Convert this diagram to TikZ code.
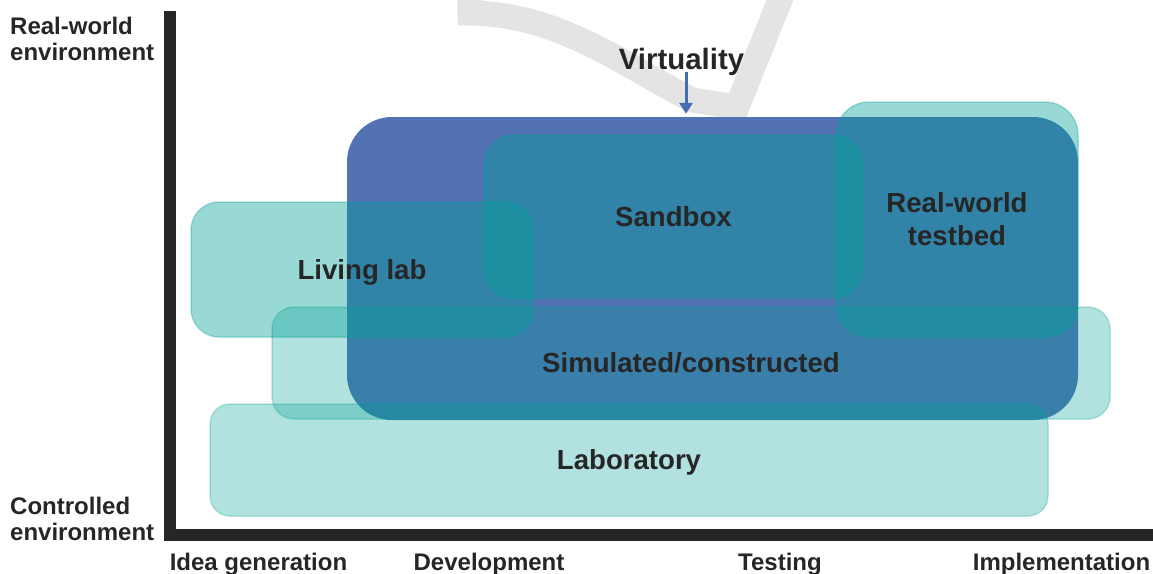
\documentclass[tikz,border=0pt]{standalone}
\usepackage{fontspec}
\setmainfont{Liberation Sans}
\usetikzlibrary{arrows.meta}
\definecolor{ink}{RGB}{38,38,38}
\definecolor{vblue}{RGB}{82,114,180}
\definecolor{tealc}{RGB}{0,160,150}
\definecolor{swgray}{RGB}{228,228,228}
\definecolor{arrowblue}{RGB}{72,108,178}
\begin{document}
\begin{tikzpicture}[x=1pt,y=-1pt,
  boxbase/.style={rectangle, inner sep=0pt, text=ink, text opacity=1,
    font=\bfseries\fontsize{27.6}{33}\selectfont},
  oneline/.style={text height=19.8pt, text depth=0pt},
  tealbox/.style={boxbase, fill=tealc, fill opacity=0.4, draw=tealc, draw opacity=0.3, line width=1.5pt},
  lightbox/.style={tealbox, fill opacity=0.3, draw opacity=0.25},
  virtbox/.style={boxbase, fill=vblue, rounded corners=45pt},
  axlabel/.style={inner sep=0pt, text=ink, font=\bfseries\fontsize{24}{26}\selectfont, align=left},
  ticklabel/.style={inner sep=0pt, text=ink, font=\bfseries\fontsize{24}{26}\selectfont, anchor=base},
  axisline/.style={draw=ink, line width=12pt, line join=miter},
  swoosh/.style={draw=swgray, line width=25pt, line join=miter},
  varrow/.style={draw=arrowblue, line width=3pt, -{Triangle[width=13pt,length=11pt]}}
]
\useasboundingbox (0,0) rectangle (1153,573);
\clip (0,0) rectangle (1153,573);
\fill[white] (0,0) rectangle (1153,573);

% background swoosh
\draw[swoosh] (469,-30) -- (470,13) .. controls (560,14) and (625,66) .. (692,100) -- (737,107) -- (792,-30);

% axes
\draw[axisline] (170,11) -- (170,535) -- (1170,535);

% boxes
\node[virtbox, minimum width=731pt, minimum height=303pt] (vbox) at (712.5,268.5) {};
\node[tealbox, oneline, rounded corners=30pt, minimum width=379pt, minimum height=163pt] (sandbox) at (673.5,216.5) {Sandbox};
\node[tealbox, align=center, rounded corners=33pt, minimum width=242pt, minimum height=235pt] (testbed) at (957,219.5) {Real-world\\testbed};
\node[tealbox, oneline, rounded corners=28pt, minimum width=342pt, minimum height=135pt] (livinglab) at (362,269.5) {Living lab};
\node[lightbox, oneline, rounded corners=22pt, minimum width=838pt, minimum height=112pt] (simulated) at (691,363) {Simulated/constructed};
\node[lightbox, oneline, rounded corners=20pt, minimum width=838pt, minimum height=112pt] (laboratory) at (629,460) {Laboratory};

% virtuality
\node[inner sep=0pt, text=ink, font=\bfseries\fontsize{29.4}{33}\selectfont, anchor=base] (virt) at (681.5,69) {Virtuality};
\draw[varrow, shorten <=3pt, shorten >=3pt] ([xshift=4.5pt]virt.base) -- ([xshift=4.5pt]virt.base |- vbox.north);

% axis labels
\node[axlabel, anchor=north west] (realenv) at (10,17) {Real-world\\environment};
\node[axlabel, anchor=north west] (ctrlenv) at (10,497) {Controlled\\environment};
\node[ticklabel] (idea) at (258.5,570) {Idea generation};
\node[ticklabel] (dev) at (489,570) {Development};
\node[ticklabel] (test) at (780,570) {Testing};
\node[ticklabel] (impl) at (1061.5,570) {Implementation};
\end{tikzpicture}
\end{document}
